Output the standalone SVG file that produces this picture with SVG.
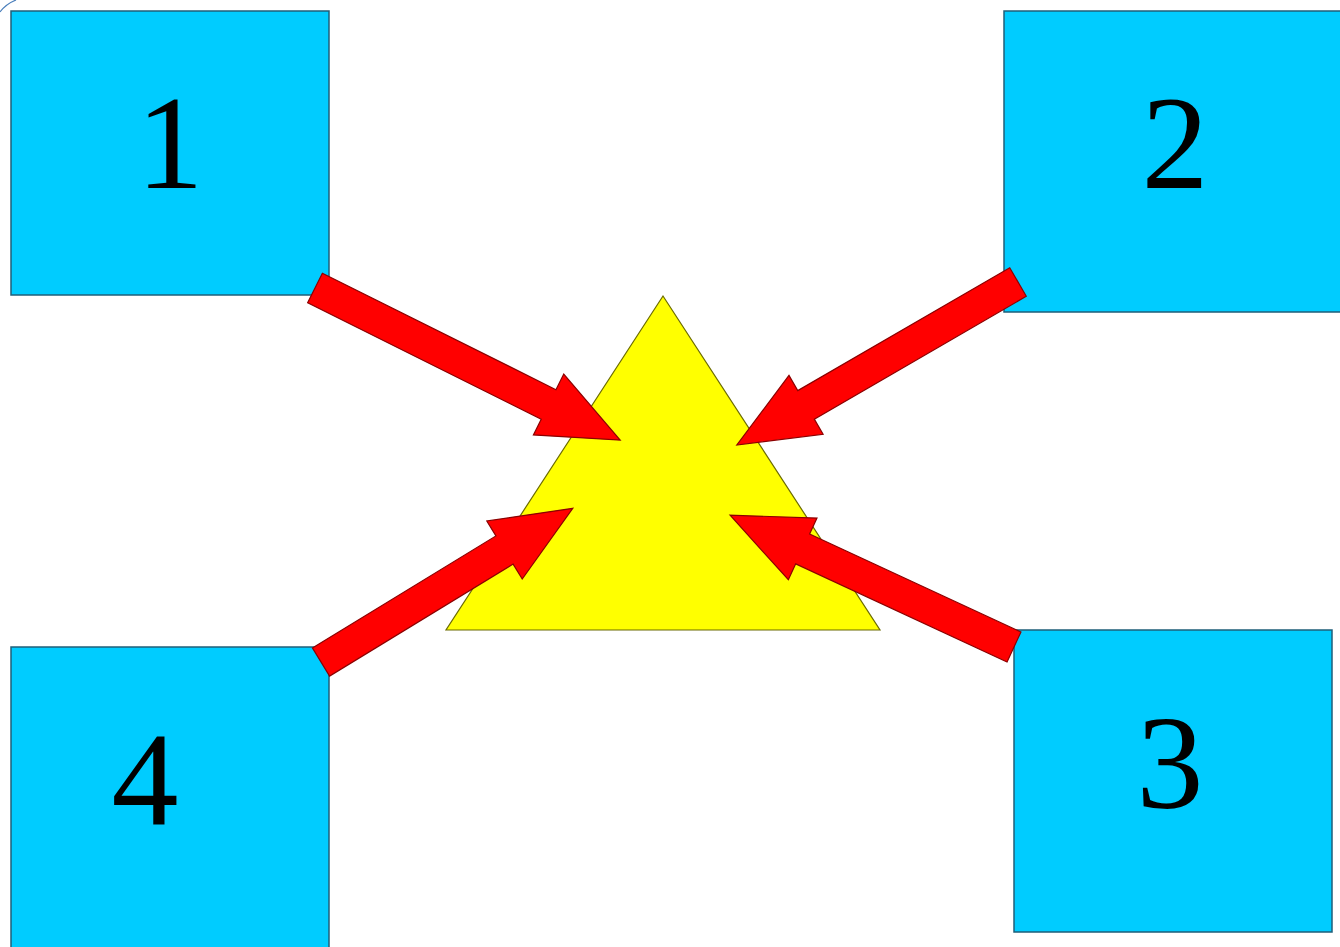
<svg xmlns="http://www.w3.org/2000/svg" width="1340" height="947" viewBox="0 0 1340 947">
<style>
.box{fill:#00ccff;stroke:#1f5f7a;stroke-width:1.5}
.lbl{font-family:"Liberation Serif","Times New Roman",serif;font-size:134px;fill:#000;text-anchor:middle}
.arr{fill:#ff0000;stroke:#8b0000;stroke-width:1.2;stroke-linejoin:miter}
.tri{fill:#ffff00;stroke:#6b6b00;stroke-width:1.2}
</style>
<rect width="1340" height="947" fill="#ffffff"/>
<path d="M0,12 Q6,4 16,0" fill="none" stroke="#4a7ebb" stroke-width="1.2"/>
<g id="node-1"><rect class="box" x="11" y="11" width="318" height="284"/><text class="lbl" x="170" y="188">1</text></g>
<g id="node-2"><rect class="box" x="1004" y="11" width="340" height="301"/><text class="lbl" x="1175" y="188">2</text></g>
<g id="node-3"><rect class="box" x="1014" y="630" width="318" height="302"/><text class="lbl" x="1170" y="808">3</text></g>
<g id="node-4"><rect class="box" x="11" y="647" width="318" height="305"/><text class="lbl" x="145" y="824">4</text></g>
<g id="node-center"><polygon class="tri" points="663,296 446,630 880,630"/></g>
<g id="connectors">
<path class="arr" transform="translate(315,288) rotate(26.5)" d="M0,-16.5 L261,-16.5 L261,-34 L341,0 L261,34 L261,16.5 L0,16.5 Z"/>
<path class="arr" transform="translate(1018,282) rotate(149.9)" d="M0,-16.5 L245,-16.5 L245,-34 L325,0 L245,34 L245,16.5 L0,16.5 Z"/>
<path class="arr" transform="translate(1014,647) rotate(-155.1)" d="M0,-16.5 L233,-16.5 L233,-34 L313,0 L233,34 L233,16.5 L0,16.5 Z"/>
<path class="arr" transform="translate(321,662) rotate(-31.4)" d="M0,-16.5 L215,-16.5 L215,-34 L295,0 L215,34 L215,16.5 L0,16.5 Z"/>
</g>
</svg>
